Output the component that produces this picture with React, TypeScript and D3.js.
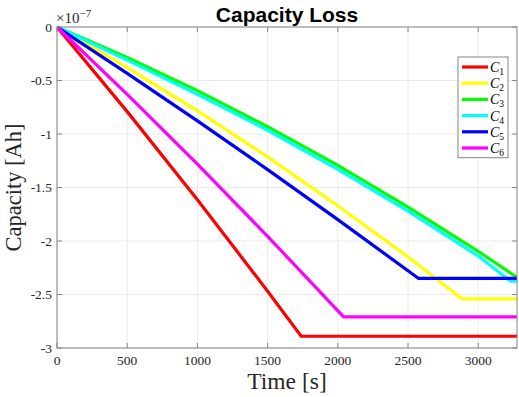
import React from 'react';
import * as d3 from 'd3';

// capacity values in units of 1e-7 Ah
const c1Time = [0, 500, 1000, 1500, 1739, 3276];
const c1Cap = [0, -0.791, -1.614, -2.469, -2.89, -2.89];
const c2Time = [0, 500, 1000, 1500, 2000, 2500, 2884, 3276];
const c2Cap = [0, -0.379, -0.783, -1.214, -1.67, -2.15, -2.54, -2.54];
const c3Time = [0, 500, 1000, 1500, 2000, 2500, 3000, 3276];
const c3Cap = [0, -0.285, -0.595, -0.932, -1.294, -1.683, -2.097, -2.34];
const c4Time = [0, 500, 1000, 1500, 2000, 2500, 3000, 3230, 3276];
const c4Cap = [0, -0.31, -0.63, -0.965, -1.33, -1.72, -2.14, -2.375, -2.375];
const c5Time = [0, 500, 1000, 1500, 2000, 2575, 3276];
const c5Cap = [0, -0.433, -0.877, -1.333, -1.8, -2.35, -2.35];
const c6Time = [0, 500, 1000, 1500, 2041, 3276];
const c6Cap = [0, -0.63, -1.282, -1.956, -2.71, -2.71];

const seriesNames = ['1', '2', '3', '4', '5', '6'];
const seriesColors = ['#ff0000', '#ffff00', '#00ff00', '#00ffff', '#0000ff', '#ff00ff'];

const xTicks = [0, 500, 1000, 1500, 2000, 2500, 3000];
const yTicks = [0, -0.5, -1, -1.5, -2, -2.5, -3];
const yTickLabels = ['0', '-0.5', '-1', '-1.5', '-2', '-2.5', '-3'];

const W = 519;
const H = 397;
const margin = { top: 27, right: 2, bottom: 49, left: 57 };
const serif = '"Liberation Serif", serif';

const App = () => {
  const x = d3.scaleLinear().domain([0, 3276]).range([margin.left, W - margin.right]);
  const y = d3.scaleLinear().domain([-3, 0]).range([H - margin.bottom, margin.top]);

  const series = [
    [c1Time, c1Cap], [c2Time, c2Cap], [c3Time, c3Cap],
    [c4Time, c4Cap], [c5Time, c5Cap], [c6Time, c6Cap],
  ].map(([t, v], i) => ({
    name: seriesNames[i],
    color: seriesColors[i],
    pts: t.map((tt, j) => [tt, v[j]] as [number, number]),
  }));

  const line = d3.line<[number, number]>().x(d => x(d[0])).y(d => y(d[1]));

  const x0 = x.range()[0], x1 = x.range()[1];
  const y0 = y.range()[1], y1 = y.range()[0];
  const axisColor = '#858585';
  const tickLen = 5;

  const legX = 458, legY = 57, legW = 50, legRow = 16.2;

  return (
    <svg width={W} height={H} style={{ position: 'absolute', left: 0, top: 0, background: '#fff' }}>
      <defs>
        <clipPath id="clip">
          <rect x={x0} y={y0 - 2} width={x1 - x0} height={y1 - y0 + 4} />
        </clipPath>
      </defs>

      {/* grid */}
      {xTicks.map(t => (
        <line key={'gx' + t} x1={x(t)} x2={x(t)} y1={y0} y2={y1} stroke="#ebebeb" strokeWidth={1} />
      ))}
      {yTicks.map(t => (
        <line key={'gy' + t} x1={x0} x2={x1} y1={y(t)} y2={y(t)} stroke="#ebebeb" strokeWidth={1} />
      ))}

      {/* data lines */}
      <g clipPath="url(#clip)">
        {series.map(s => (
          <path key={s.name} d={line(s.pts) || ''} fill="none" stroke={s.color} strokeWidth={3.2} />
        ))}
      </g>

      {/* axes box */}
      <rect x={x0} y={y0} width={x1 - x0} height={y1 - y0} fill="none" stroke={axisColor} strokeWidth={1} />
      {xTicks.map(t => (
        <g key={'xt' + t}>
          <line x1={x(t)} x2={x(t)} y1={y1} y2={y1 - tickLen} stroke={axisColor} />
          <line x1={x(t)} x2={x(t)} y1={y0} y2={y0 + tickLen} stroke={axisColor} />
          <text x={x(t)} y={y1 + 17} textAnchor="middle" fontFamily={serif} fontSize={13.5} fill="#262626">{t}</text>
        </g>
      ))}
      {yTicks.map((t, i) => (
        <g key={'yt' + t}>
          <line x1={x0} x2={x0 + tickLen} y1={y(t)} y2={y(t)} stroke={axisColor} />
          <line x1={x1} x2={x1 - tickLen} y1={y(t)} y2={y(t)} stroke={axisColor} />
          <text x={x0 - 5} y={y(t) + 4.5} textAnchor="end" fontFamily={serif} fontSize={13.5} fill="#262626">{yTickLabels[i]}</text>
        </g>
      ))}

      {/* exponent */}
      <text x={x0 - 1} y={23} fontFamily={serif} fontSize={15} fill="#262626">
        ×10<tspan dy={-6} fontSize={11}>−7</tspan>
      </text>

      {/* title */}
      <text x={(x0 + x1) / 2} y={22} textAnchor="middle" fontFamily="'Liberation Sans', Arial, sans-serif" fontWeight="bold" fontSize={21} fill="#000">Capacity Loss</text>

      {/* axis labels */}
      <text x={(x0 + x1) / 2} y={389} textAnchor="middle" fontFamily={serif} fontSize={23.5} fill="#262626">Time [s]</text>
      <text transform={`translate(21, ${(y0 + y1) / 2}) rotate(-90)`} textAnchor="middle" fontFamily={serif} fontSize={22.5} fill="#262626">Capacity [Ah]</text>

      {/* legend */}
      <rect x={legX} y={legY} width={legW} height={legRow * 6 + 3.5} fill="#fff" stroke={axisColor} strokeWidth={1} />
      {series.map((s, i) => {
        const cy = legY + 10 + i * legRow;
        return (
          <g key={'lg' + s.name}>
            <line x1={legX + 4} x2={legX + 30} y1={cy} y2={cy} stroke={s.color} strokeWidth={3.2} />
            <text x={legX + 32} y={cy + 5} fontFamily={serif} fontStyle="italic" fontSize={14} fill="#000">
              C<tspan dy={3} fontSize={9.5} fontStyle="normal">{s.name}</tspan>
            </text>
          </g>
        );
      })}
    </svg>
  );
};

export default App;
